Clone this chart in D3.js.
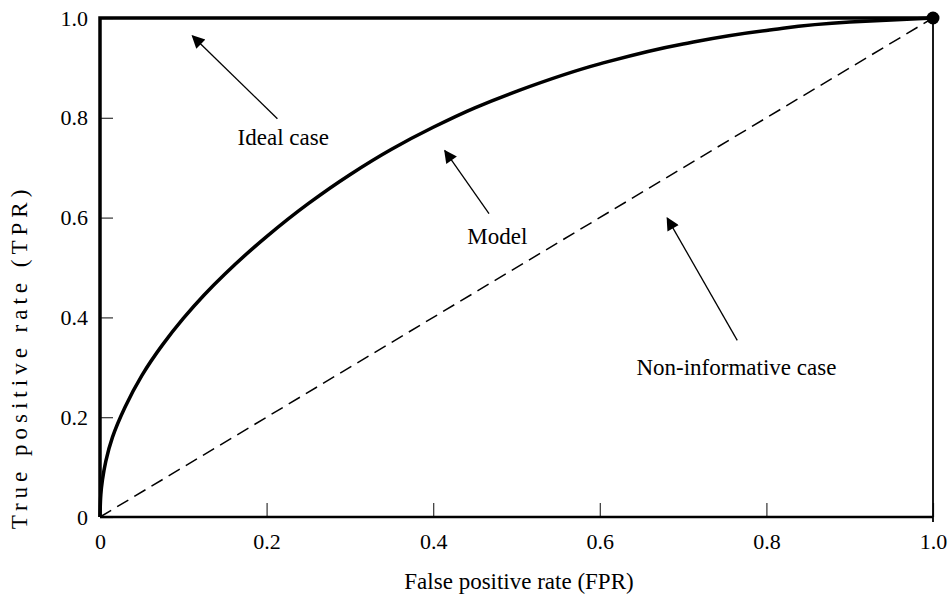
<!DOCTYPE html>
<html>
<head>
<meta charset="utf-8">
<script src="https://cdn.jsdelivr.net/npm/d3@7"></script>
<style>
  body { margin: 0; background: #fff; }
</style>
</head>
<body>
<script>
// ROC curve values
var a_fpr = [0, 0.001, 0.003, 0.007, 0.015, 0.03, 0.05, 0.075, 0.1, 0.125, 0.15, 0.2, 0.25, 0.3, 0.35, 0.4, 0.45, 0.5, 0.6, 0.7, 0.8, 0.9, 1.0];
var a_tpr = [0, 0.045, 0.075, 0.112, 0.16, 0.22, 0.283, 0.345, 0.398, 0.445, 0.487, 0.562, 0.628, 0.686, 0.737, 0.781, 0.82, 0.853, 0.908, 0.948, 0.975, 0.992, 1.0];
var a_ideal_fpr = [0, 0, 1];
var a_ideal_tpr = [0, 1, 1];
var a_random_fpr = [0, 1];
var a_random_tpr = [0, 1];
var a_ticks = [0, 0.2, 0.4, 0.6, 0.8, 1.0];
var a_tick_labels = ["0", "0.2", "0.4", "0.6", "0.8", "1.0"];

// annotations: label, text anchor point, arrow tip, arrow tail (data units)
var a_notes = [
  {label: "Ideal case", tx: 0.22, ty: 0.745, ax: 0.111, ay: 0.964, tailx: 0.213, taily: 0.798},
  {label: "Model", tx: 0.477, ty: 0.548, ax: 0.414, ay: 0.734, tailx: 0.467, taily: 0.608},
  {label: "Non-informative case", tx: 0.764, ty: 0.284, ax: 0.681, ay: 0.599, tailx: 0.765, taily: 0.354}
];

const v_font = '"Liberation Serif", "DejaVu Serif", "Times New Roman", serif';
var v_width = 951, v_height = 598;
var x = d3.scaleLinear().domain([0, 1]).range([100, 933]);
var y = d3.scaleLinear().domain([0, 1]).range([517, 18]);

var svg = d3.select("body").append("svg")
    .attr("width", v_width)
    .attr("height", v_height)
    .style("font-family", v_font);

svg.append("defs").append("marker")
    .attr("id", "arrow")
    .attr("viewBox", "0 0 10 10")
    .attr("refX", 9)
    .attr("refY", 5)
    .attr("markerUnits", "userSpaceOnUse")
    .attr("markerWidth", 18)
    .attr("markerHeight", 13)
    .attr("orient", "auto")
  .append("path")
    .attr("d", "M0,0 L10,5 L0,10 Z")
    .attr("fill", "#000");

// axes (ticks point inward)
var fmt = function(d, i) { return a_tick_labels[i]; };
var x_axis = d3.axisBottom(x).tickValues(a_ticks).tickSize(-14).tickPadding(16).tickFormat(fmt);
var y_axis = d3.axisLeft(y).tickValues(a_ticks).tickSize(-13).tickPadding(12).tickFormat(fmt);

var gx = svg.append("g").attr("transform", "translate(0," + y(0) + ")").call(x_axis);
var gy = svg.append("g").attr("transform", "translate(" + x(0) + ",0)").call(y_axis);
[gx, gy].forEach(function(g) {
  g.attr("font-family", null).attr("font-size", null);
  g.select(".domain").remove();
  g.selectAll("line").attr("stroke", "#333").attr("stroke-width", 1.2);
  g.selectAll("text").style("font-family", v_font).style("font-size", "22px").attr("fill", "#000");
});

// frame lines
svg.append("line")
    .attr("x1", x(0)).attr("x2", x(1)).attr("y1", y(0)).attr("y2", y(0))
    .attr("stroke", "#000").attr("stroke-width", 2.5);
svg.append("line")
    .attr("x1", x(1)).attr("x2", x(1)).attr("y1", y(1)).attr("y2", y(0) + 5)
    .attr("stroke", "#000").attr("stroke-width", 1.8);

var line = d3.line()
    .x(function(d) { return x(d[0]); })
    .y(function(d) { return y(d[1]); });

// non-informative diagonal
svg.append("path")
    .datum(d3.zip(a_random_fpr, a_random_tpr))
    .attr("d", line)
    .attr("fill", "none")
    .attr("stroke", "#000")
    .attr("stroke-width", 1.5)
    .attr("stroke-dasharray", "13,7");

// ideal case
svg.append("path")
    .datum(d3.zip(a_ideal_fpr, a_ideal_tpr))
    .attr("d", line)
    .attr("fill", "none")
    .attr("stroke", "#000")
    .attr("stroke-width", 3.5)
    .attr("stroke-linejoin", "miter");

// model
var line_model = d3.line()
    .x(function(d) { return x(d[0]); })
    .y(function(d) { return y(d[1]); })
    .curve(d3.curveMonotoneY);
svg.append("path")
    .datum(d3.zip(a_fpr, a_tpr))
    .attr("d", line_model)
    .attr("fill", "none")
    .attr("stroke", "#000")
    .attr("stroke-width", 3.5);

svg.append("circle")
    .attr("cx", x(1)).attr("cy", y(1)).attr("r", 6.5)
    .attr("fill", "#000");

// annotations
a_notes.forEach(function(n) {
  svg.append("line")
      .attr("x1", x(n.tailx)).attr("y1", y(n.taily))
      .attr("x2", x(n.ax)).attr("y2", y(n.ay))
      .attr("stroke", "#000").attr("stroke-width", 1.3)
      .attr("marker-end", "url(#arrow)");
  svg.append("text")
      .attr("x", x(n.tx)).attr("y", y(n.ty))
      .attr("text-anchor", "middle")
      .style("font-size", "23px")
      .text(n.label);
});

// axis titles
svg.append("text")
    .attr("x", 519).attr("y", 589)
    .attr("text-anchor", "middle")
    .style("font-size", "23px")
    .text("False positive rate (FPR)");

svg.append("text")
    .attr("transform", "translate(27,357) rotate(-90)")
    .attr("text-anchor", "middle")
    .style("font-size", "23px")
    .attr("letter-spacing", 5)
    .text("True positive rate (TPR)");
</script>
</body>
</html>
